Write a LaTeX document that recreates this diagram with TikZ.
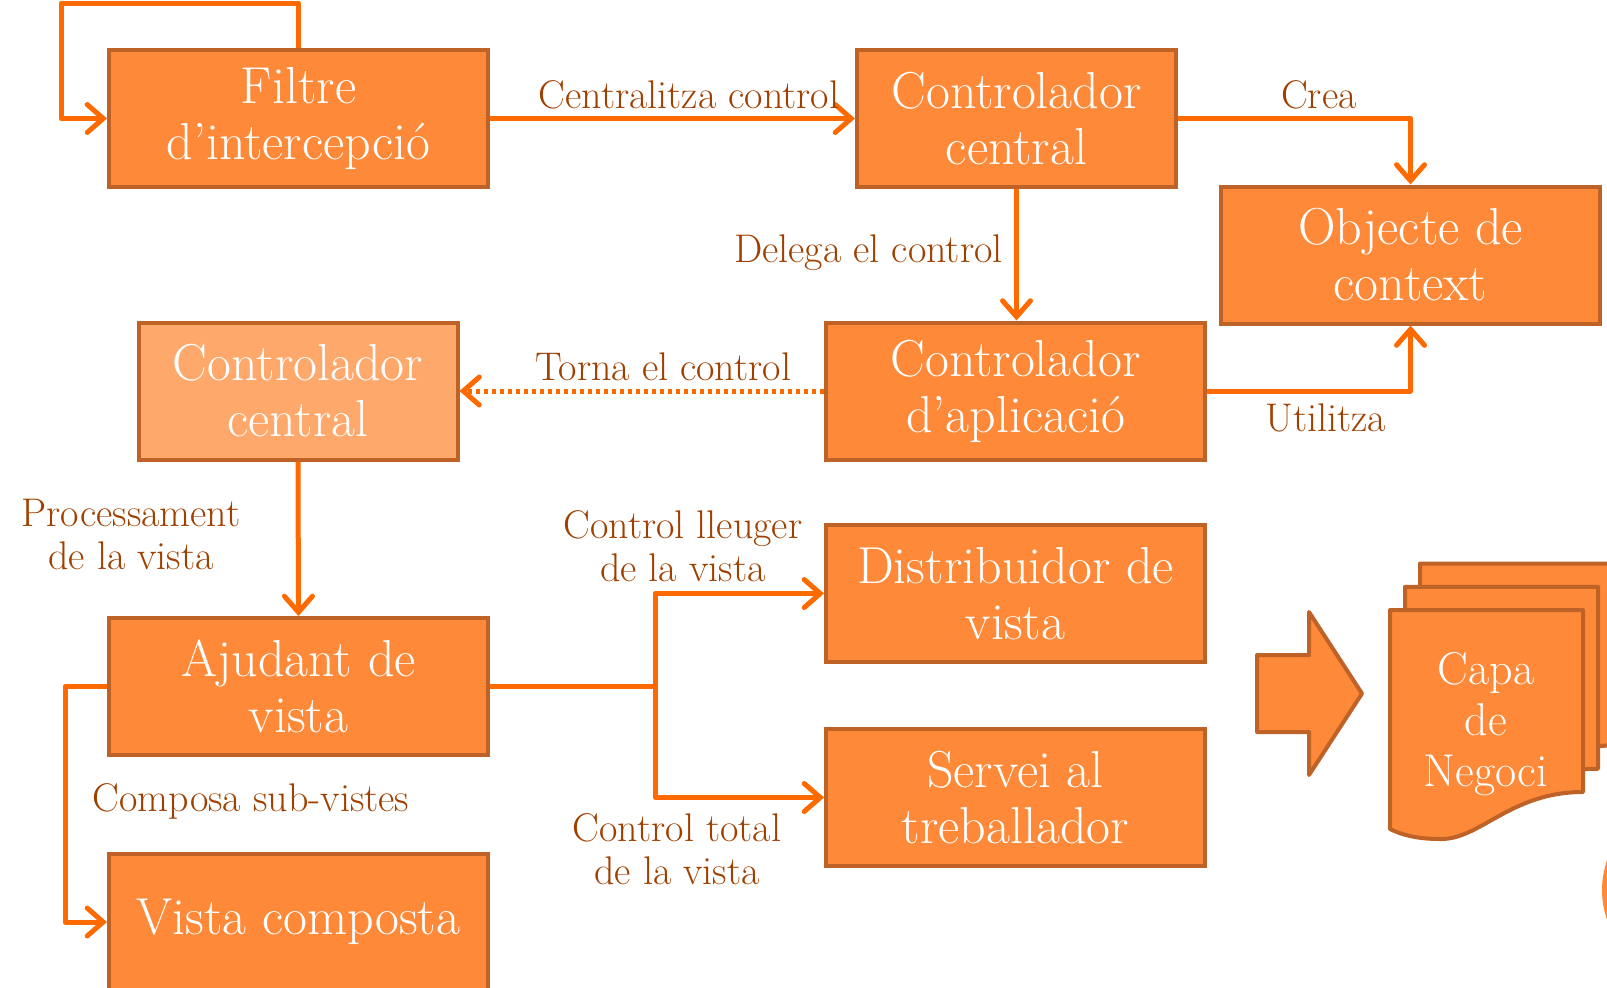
\documentclass[tikz,border=0pt]{standalone}
\usepackage{fontspec}
\usepackage{tikz}
\usetikzlibrary{arrows.meta}
\definecolor{caixafons}{RGB}{253,137,57}
\definecolor{caixavora}{RGB}{190,98,40}
\definecolor{caixaclara}{RGB}{255,168,108}
\definecolor{fletxacol}{RGB}{255,106,0}
\definecolor{etiquetacol}{RGB}{160,64,0}
\tikzset{
  caixa/.style={draw=caixavora,fill=caixafons,line width=2pt,text=white,align=center,
    minimum width=189.5pt,minimum height=68.5pt,inner sep=0pt,
    font=\fontsize{26}{28}\selectfont},
  estreta/.style={caixa,minimum width=159.5pt},
  linia/.style={draw=fletxacol,line width=2.5pt,line join=round},
  fletxa/.style={linia,-{Straight Barb[length=8pt,width=14pt,line cap=round]}},
  puntejat/.style={dash pattern=on 2pt off 2pt},
  etiqueta/.style={text=etiquetacol,align=center,inner sep=0pt,
    font=\fontsize{20}{21.5}\selectfont},
  document/.style={draw=caixavora,fill=caixafons,line width=2pt,line join=round}
}
\begin{document}
\begin{tikzpicture}[x=0.5pt,y=-0.5pt]
\useasboundingbox (0,0) rectangle (1607,987);
% caixes
\node[caixa] (filtre) at (298.5,118.5) {Filtre\\d’intercepció};
\node[estreta] (central) at (1016.5,118.5) {Controlador\\central};
\node[caixa] (objecte) at (1410.5,255) {Objecte de\\context};
\node[estreta,fill=caixaclara] (central2) at (298,391) {Controlador\\central};
\node[caixa] (aplicacio) at (1015.5,391) {Controlador\\d’aplicació};
\node[caixa] (ajudant) at (298.5,686.5) {Ajudant de\\vista};
\node[caixa] (distribuidor) at (1015.5,593.5) {Distribuidor de\\vista};
\node[caixa] (servei) at (1015.5,797.5) {Servei al\\treballador};
\node[caixa] (vista) at (298.5,922) {Vista composta};
% connexions
\coordinate (bucle) at (61,3);
\draw[fletxa] (filtre.north) |- (bucle) |- (filtre.west);
\draw[fletxa] (filtre.east) -- (central.west);
\draw[fletxa] (central.east) -| (objecte.north);
\draw[fletxa] (central.south) -- (central.south |- aplicacio.north);
\draw[fletxa] (aplicacio.east) -| (objecte.south);
\draw[fletxa,puntejat] (aplicacio.west) -- (central2.east);
\draw[fletxa] (central2.south) -- (ajudant.north);
\coordinate (branca) at (655,686.5);
\draw[linia] (ajudant.east) -- (branca);
\draw[fletxa] (branca) |- (distribuidor.west);
\draw[fletxa] (branca) |- (servei.west);
\coordinate (esquerra) at (65,686.5);
\draw[fletxa] (ajudant.west) -- (esquerra) |- (vista.west);
% etiquetes
\node[etiqueta] (centralitza) at (689,95) {Centralitza control};
\node[etiqueta] (crea) at (1319,95) {Crea};
\node[etiqueta,anchor=east] (delega) at (1003,253) {Delega el control};
\node[etiqueta] (torna) at (663,367) {Torna el control};
\node[etiqueta] (utilitza) at (1326,418) {Utilitza};
\node[etiqueta] (processament) at (131,534) {Processament\\de la vista};
\node[etiqueta] (lleuger) at (683,546) {Control lleuger\\de la vista};
\node[etiqueta] (composa) at (251,801) {Composa sub-vistes};
\node[etiqueta] (total) at (677,849) {Control total\\de la vista};
% fletxa gran i capa de negoci
\draw[document] (1257,655) -- (1309,655) -- (1309,612) -- (1362,693.5)
  -- (1309,775) -- (1309,732) -- (1257,732) -- cycle;
\foreach \d in {30,15,0} {
  \draw[document,shift={(\d,-1.55*\d)}] (1390,610) -- (1583,610) -- (1583,792)
    .. controls (1510,792) and (1480,840) .. (1440,839)
    .. controls (1415,839) and (1400,834) .. (1390,829) -- cycle;
}
\node[caixa,draw=none,fill=none,font=\fontsize{23}{25.5}\selectfont] (capa) at (1486,724) {Capa\\de\\Negoci};
\fill[caixafons] (1692,890) circle (90);
\end{tikzpicture}
\end{document}
